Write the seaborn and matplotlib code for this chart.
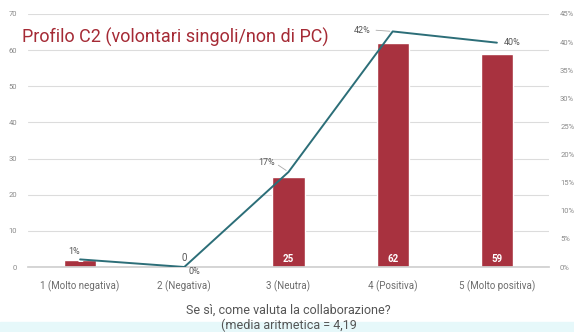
import matplotlib
matplotlib.use("Agg")
import matplotlib.pyplot as plt
import seaborn as sns
import pandas as pd
import numpy as np

# Survey answers: how the collaboration is rated
categories = ["1 (Molto negativa)", "2 (Negativa)", "3 (Neutra)", "4 (Positiva)", "5 (Molto positiva)"]
counts = [2, 0, 25, 62, 59]
shares = [0.0135, 0.0, 0.169, 0.419, 0.399]
share_labels = ["1%", "0%", "17%", "42%", "40%"]
left_ticks = [0, 10, 20, 30, 40, 50, 60, 70]
right_ticks = [0, 0.05, 0.10, 0.15, 0.20, 0.25, 0.30, 0.35, 0.40, 0.45]

title = "Profilo C2 (volontari singoli/non di PC)"
xlabel = "Se sì, come valuta la collaborazione?\n(media aritmetica = 4,19"

bar_color = "#A8323F"
line_color = "#2C6E78"
text_gray = "#6b6b6b"

sns.set_theme(style="white")
plt.rcParams["font.family"] = ["Roboto", "DejaVu Sans"]

df = pd.DataFrame({"categoria": categories, "n": counts, "quota": shares})

fig = plt.figure(figsize=(5.74, 3.32), dpi=100)
fig.patch.set_facecolor("white")
# pale strip along the bottom edge
fig.add_artist(plt.Rectangle((0, 0), 1, 10 / 332, transform=fig.transFigure,
                             color="#E6F8FA", zorder=0))

ax = fig.add_axes([28 / 574, (332 - 267) / 332, (549 - 28) / 574, 253 / 332])
ax.set_facecolor("none")

sns.barplot(data=df, x="categoria", y="n", color=bar_color, width=0.31,
            saturation=1, ax=ax, zorder=2)
ax.set_ylim(0, 70)
ax.set_yticks(left_ticks)
ax.set_yticklabels([str(t) for t in left_ticks], fontsize=5.5, color="#8a8a8a")
ax.yaxis.grid(True, color="#dcdcdc", linewidth=0.8)
ax.set_axisbelow(True)
ax.tick_params(axis="y", length=0, pad=8)
ax.tick_params(axis="x", length=0, pad=10)
ax.set_xticks(range(len(categories)))
ax.set_xticklabels(categories, fontsize=7, color=text_gray)
ax.set_ylabel("")
ax.set_xlabel(xlabel, fontsize=9, color="#555555", labelpad=8.5, linespacing=1.15)
for s in ax.spines.values():
    s.set_visible(False)
ax.spines["bottom"].set_visible(True)
ax.spines["bottom"].set_color("#d0d0d0")

# count labels inside the bars (above when the bar is empty)
for i, v in enumerate(counts):
    if v == 0:
        ax.text(i, 1.2, str(v), ha="center", va="bottom", fontsize=7, color="#555555")
    else:
        ax.text(i, 0.8, str(v), ha="center", va="bottom", fontsize=7,
                color="white", fontweight="bold", zorder=4)

ax2 = ax.twinx()
sns.lineplot(x=list(range(len(categories))), y=shares, color=line_color,
             linewidth=1.4, ax=ax2, zorder=3)
ax2.set_ylim(0, 0.45)
ax2.set_yticks(right_ticks)
ax2.set_yticklabels([f"{round(t * 100)}%" for t in right_ticks], fontsize=5.5, color="#8a8a8a")
ax2.tick_params(axis="y", length=0, pad=8)
for s in ax2.spines.values():
    s.set_visible(False)
ax2.set_ylabel("")
ax.set_xlim(-0.5, len(categories) - 0.5)

# share labels on the line
offsets = [(-4, 6), (7, -3), (-16, 7), (-22, 1), (11, 0)]
for i, (lab, (dx, dy)) in enumerate(zip(share_labels, offsets)):
    ax2.annotate(lab, (i, shares[i]), xytext=(dx, dy), textcoords="offset points",
                 ha="center", va="center", fontsize=6.5, color="#555555")
# short leader lines next to two labels
for i, (x0, y0) in [(2, (-9, 6)), (3, (-14, 1))]:
    ax2.annotate("", (i, shares[i]), xytext=(x0, y0),
                 textcoords="offset points",
                 arrowprops=dict(arrowstyle="-", color="#aaaaaa", lw=0.6))

fig.text(22 / 574, 1 - 37 / 332, title, fontsize=13, color="#A52A35",
         ha="left", va="center")

fig.savefig("out.png", dpi=100)
